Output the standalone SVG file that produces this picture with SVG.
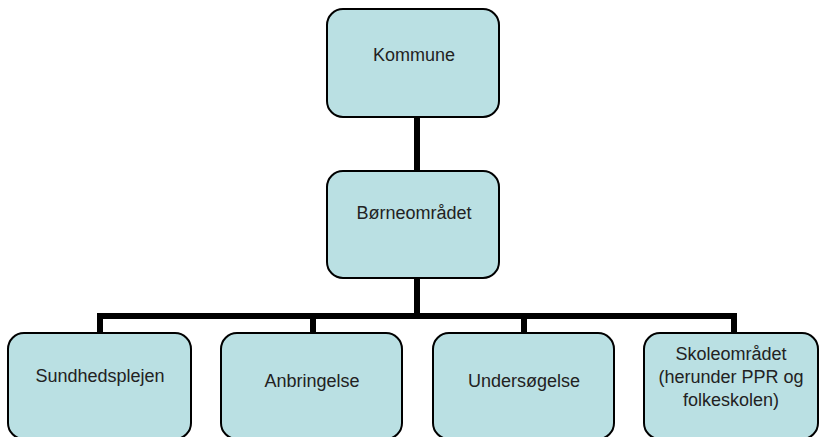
<svg xmlns="http://www.w3.org/2000/svg" width="821" height="437" viewBox="0 0 821 437">
  <style>
    .box { fill: #bae0e3; stroke: #000; stroke-width: 2; }
    .lbl { font-family: "Liberation Sans", Arial, sans-serif; font-size: 18px; fill: #222; text-anchor: middle; }
    .conn { stroke: #000; stroke-width: 6; fill: none; }
  </style>
  <rect width="821" height="437" fill="#fff"/>

  <!-- org chart connectors -->
  <g id="connectors">
    <line class="conn" x1="417" y1="117" x2="417" y2="171"/>
    <line class="conn" x1="417" y1="278" x2="417" y2="316"/>
    <line class="conn" x1="97" y1="316" x2="737" y2="316"/>
    <line class="conn" x1="100" y1="316" x2="100" y2="333"/>
    <line class="conn" x1="313" y1="316" x2="313" y2="333"/>
    <line class="conn" x1="524" y1="316" x2="524" y2="333"/>
    <line class="conn" x1="734" y1="316" x2="734" y2="333"/>
  </g>

  <g id="kommune">
    <rect class="box" x="327" y="9" width="172" height="108" rx="16"/>
    <text class="lbl" x="414" y="61">Kommune</text>
  </g>

  <g id="borneomraadet">
    <rect class="box" x="327" y="171" width="172" height="107" rx="16"/>
    <text class="lbl" x="414" y="219">Børneområdet</text>
  </g>

  <g id="sundhedsplejen">
    <rect class="box" x="8" y="333" width="183" height="106" rx="16"/>
    <text class="lbl" x="100" y="382">Sundhedsplejen</text>
  </g>

  <g id="anbringelse">
    <rect class="box" x="221" y="333" width="181" height="106" rx="16"/>
    <text class="lbl" x="312" y="387">Anbringelse</text>
  </g>

  <g id="undersoegelse">
    <rect class="box" x="433" y="333" width="181" height="106" rx="16"/>
    <text class="lbl" x="524" y="387">Undersøgelse</text>
  </g>

  <g id="skoleomraadet">
    <rect class="box" x="644" y="333" width="174" height="106" rx="16"/>
    <text class="lbl" x="731" y="360">Skoleområdet</text>
    <text class="lbl" x="731" y="383">(herunder PPR og</text>
    <text class="lbl" x="731" y="406">folkeskolen)</text>
  </g>
</svg>
